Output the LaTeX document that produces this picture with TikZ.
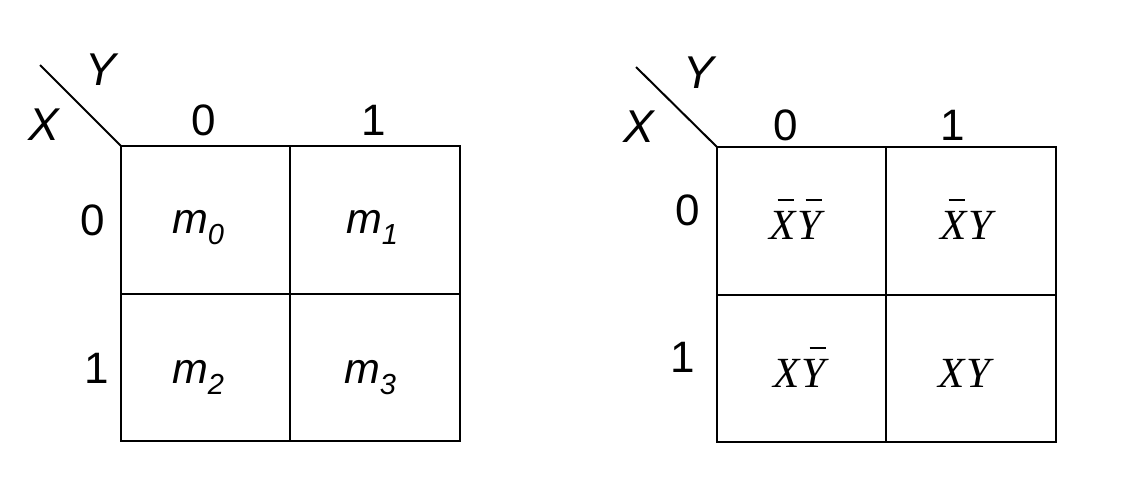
\documentclass[tikz,border=0pt]{standalone}
\usepackage{fontspec}
\setmainfont{Liberation Sans}
\newfontfamily\serifit{Liberation Serif}[ItalicFont=* Italic]
\tikzset{
  grid/.style={line width=1pt},
  lab/.style={inner sep=0pt, anchor=base, font=\fontsize{22}{26}\selectfont},
  vlab/.style={inner sep=0pt, anchor=base, font=\fontsize{23}{27}\selectfont\itshape},
  mlab/.style={inner sep=0pt, anchor=base, font=\fontsize{21.5}{25}\selectfont\itshape},
  tlab/.style={inner sep=0pt, anchor=base, font=\fontsize{21.5}{26}\selectfont\serifit\itshape}
}
\newcommand{\mysub}[1]{\raisebox{-5.5pt}{\fontsize{14.5}{17}\selectfont #1}}
\newcommand{\bx}[1]{\rlap{\hspace{0.2em}\rule[0.88em]{0.38em}{0.055em}}#1}
\begin{document}
\begin{tikzpicture}[x=0.5pt,y=-0.5pt]
\useasboundingbox (0,0) rectangle (1132,488);
% left map
\coordinate (L1) at (40,65);
\coordinate (Lc) at (121,146);
\draw[grid] (L1) -- (Lc);
\draw[grid] (Lc) rectangle (460,441);
\draw[grid] (290,146) -- (290,441);
\draw[grid] (121,294) -- (460,294);
\node[vlab] (LY) at (101,85) {Y};
\node[vlab] (LX) at (44,140) {X};
\node[lab] (LC0) at (204,135) {0};
\node[lab] (LC1) at (374,135) {1};
\node[lab] (LR0) at (93,235) {0};
\node[lab] (LR1) at (97,383) {1};
\node[mlab] (m0) at (198,233) {m\mysub{0}};
\node[mlab] (m1) at (372,233) {m\mysub{1}};
\node[mlab] (m2) at (198,383) {m\mysub{2}};
\node[mlab] (m3) at (370,383) {m\mysub{3}};
% right map
\coordinate (R1) at (636,67);
\coordinate (Rc) at (717,147);
\draw[grid] (R1) -- (Rc);
\draw[grid] (Rc) rectangle (1056,442);
\draw[grid] (886,147) -- (886,442);
\draw[grid] (717,295) -- (1056,295);
\node[vlab] (RY) at (699,88) {Y};
\node[vlab] (RX) at (639,142) {X};
\node[lab] (RC0) at (786,140) {0};
\node[lab] (RC1) at (953,140) {1};
\node[lab] (RR0) at (688,225) {0};
\node[lab] (RR1) at (683,372) {1};
\node[tlab] (t00) at (795,239) {\bx{X}\kern0.04em\bx{Y}};
\node[tlab] (t01) at (966,239) {\bx{X}\kern0.04em Y};
\node[tlab] (t10) at (799,387) {X\kern0.04em\bx{Y}};
\node[tlab] (t11) at (964,387) {X\kern0.04em Y};
\end{tikzpicture}
\end{document}
